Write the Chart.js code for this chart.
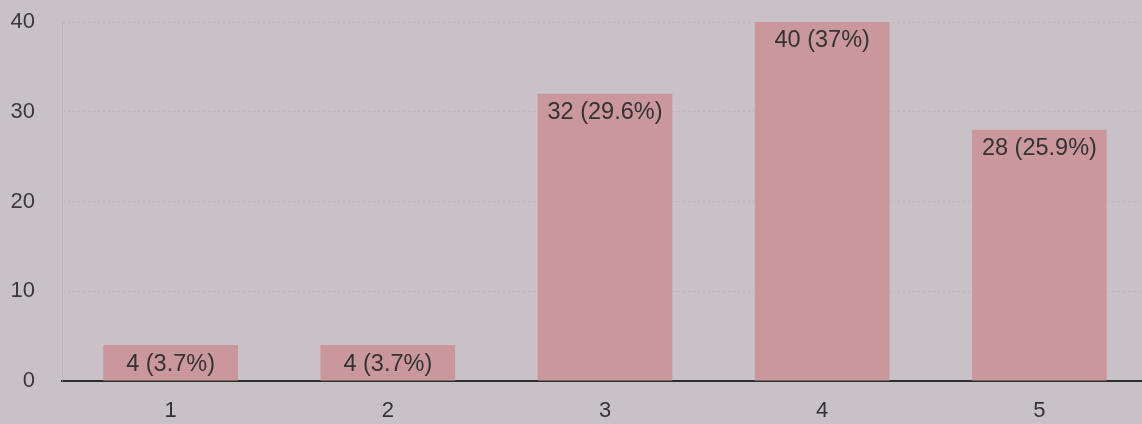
<!DOCTYPE html>
<html>
<head>
<meta charset="utf-8">
<script src="https://cdn.jsdelivr.net/npm/chart.js@4/dist/chart.umd.min.js"></script>
<style>
    html, body {
        margin: 0;
        padding: 0;
        overflow: hidden;
        background: #c8c2c8;
    }
    .chart-box {
        position: relative;
        width: 1148px;
        height: 424px;
    }
</style>
</head>
<body>
<div class="chart-box">
    <canvas id="ratingChart"></canvas>
</div>
<script>
const ratings = ['1', '2', '3', '4', '5'];
const responses = [4, 4, 32, 40, 28];
const shares = ['3.7%', '3.7%', '29.6%', '37%', '25.9%'];
const yTicks = [0, 10, 20, 30, 40];

const barColor = '#c9979c';
const textColor = '#333333';
const fontFamily = '"Liberation Sans", Arial, sans-serif';

// Count + share written just inside the top of each bar
const barLabels = {
    id: 'barLabels',
    afterDatasetsDraw(chart) {
        const ctx = chart.ctx;
        const meta = chart.getDatasetMeta(0);
        ctx.save();
        ctx.font = `23.5px ${fontFamily}`;
        ctx.fillStyle = textColor;
        ctx.textAlign = 'center';
        ctx.textBaseline = 'middle';
        meta.data.forEach((bar, i) => {
            ctx.fillText(`${responses[i]} (${shares[i]})`, bar.x, bar.y + 19);
        });
        ctx.restore();
    }
};

document.addEventListener('DOMContentLoaded', () => {
    const ctx = document.getElementById('ratingChart').getContext('2d');

    new Chart(ctx, {
        type: 'bar',
        data: {
            labels: ratings,
            datasets: [{
                data: responses,
                backgroundColor: barColor,
                borderWidth: 0,
                barPercentage: 0.62,
                categoryPercentage: 1.0
            }]
        },
        options: {
            responsive: true,
            maintainAspectRatio: false,
            animation: false,
            layout: {
                padding: { top: 22, right: 0, bottom: 0, left: 0 }
            },
            plugins: {
                legend: { display: false },
                tooltip: { enabled: false }
            },
            scales: {
                x: {
                    grid: { display: false, drawTicks: false },
                    border: { display: true, color: '#2e2e2e', width: 2 },
                    ticks: {
                        color: textColor,
                        padding: 17,
                        font: { family: fontFamily, size: 22 }
                    },
                    afterFit(scale) {
                        scale.height = 43;
                    }
                },
                y: {
                    min: 0,
                    max: 40,
                    afterBuildTicks(scale) {
                        scale.ticks = yTicks.map(v => ({ value: v }));
                    },
                    grid: {
                        drawTicks: false,
                        color: ctx => ctx.tick && ctx.tick.value === 0 ? 'rgba(0,0,0,0)' : 'rgba(185,165,180,0.45)',
                        lineWidth: 1
                    },
                    border: { display: true, color: 'rgba(180,170,178,0.5)', width: 1, dash: [2, 3] },
                    ticks: {
                        color: '#3a3a3a',
                        padding: 27,
                        font: { family: fontFamily, size: 22 }
                    },
                    afterFit(scale) {
                        scale.width = 62;
                        // top label may overhang; padding comes from layout instead
                        scale.paddingTop = 0;
                        scale.paddingBottom = 0;
                    }
                }
            }
        },
        plugins: [barLabels]
    });
});
</script>
</body>
</html>
